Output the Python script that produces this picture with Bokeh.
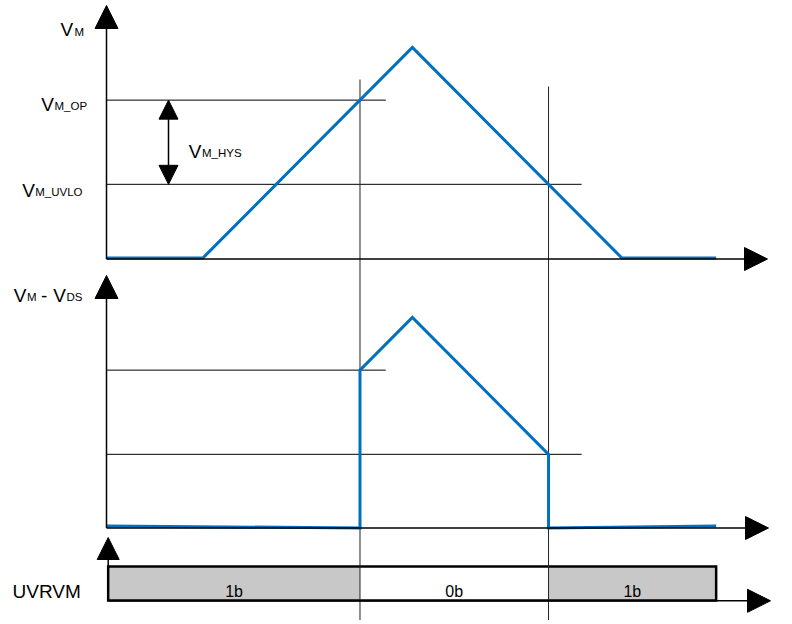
from bokeh.plotting import figure
from bokeh.models import Range1d, Arrow, NormalHead, ColumnDataSource, Label
from bokeh.core.properties import value
from bokeh.embed import file_html
from bokeh.resources import INLINE

# ---------------- data (time in ms, voltage in V) ----------------
t_vm = [0.0, 4.6, 14.6, 24.6, 29.1]          # V_M ramp up / down
vm = [0.0, 0.0, 10.0, 0.0, 0.0]

V_OP = 7.5        # V_M_OP threshold
V_UVLO = 3.5      # V_M_UVLO threshold
t_op = 12.1       # V_M crosses V_M_OP (rising)
t_uvlo = 21.1     # V_M crosses V_M_UVLO (falling)
t_peak = 14.6
t_end = 29.1

t_vds = [0.0, t_op, t_op, t_peak, t_uvlo, t_uvlo, t_end]   # V_M - V_DS
vds = [0.1, 0.0, 7.5, 10.0, 3.5, 0.0, 0.1]

bus_start = [0.08, t_op, t_uvlo]             # UVRVM register value
bus_end = [t_op, t_uvlo, t_end]
bus_val = ["1b", "0b", "1b"]

# ---------------- layout (page pixels) ----------------
OX, OY = 0, 0          # canvas origin on the page
W, H = 790, 620
X0_PX = 106.0
PX_PER_MS = 20.95
PX_PER_V = 21.05
TOP_ZERO = 257.5
MID_ZERO = 527.5
BUS_ZERO, BUS_PX = 600.0, 34.0
BLUE = "#0070C0"
FONT = "Liberation Sans"


def vrange(zero_px, k):
    return Range1d(start=(zero_px - (OY + H)) / k, end=(zero_px - OY) / k)


p = figure(width=W, height=H, x_range=Range1d(OX, OX + W), y_range=Range1d(OY + H, OY),
           output_backend="svg", toolbar_location=None, min_border=0,
           x_axis_location=None, y_axis_location=None)
p.grid.visible = False
p.outline_line_color = None
p.background_fill_color = "white"
p.border_fill_color = "white"

p.extra_x_ranges = {"time": Range1d((OX - X0_PX) / PX_PER_MS, (OX + W - X0_PX) / PX_PER_MS)}
p.extra_y_ranges = {
    "vm": vrange(TOP_ZERO, PX_PER_V),
    "vds": vrange(MID_ZERO, PX_PER_V),
    "bus": vrange(BUS_ZERO, BUS_PX),
}

# threshold lines
for rng in ("vm", "vds"):
    p.segment(x0=[0, 0], y0=[V_OP, V_UVLO], x1=[t_op + 1.23, t_uvlo + 1.58], y1=[V_OP, V_UVLO],
              x_range_name="time", y_range_name=rng, line_color="black", line_width=1)

# bus (UVRVM)
bus_src = ColumnDataSource(dict(
    left=bus_start, right=bus_end, label=bus_val,
    mid=[(a + b) / 2 for a, b in zip(bus_start, bus_end)],
    fill=["#C8C8C8" if v == "1b" else "white" for v in bus_val],
))
p.quad(left="left", right="right", bottom=0, top=1, fill_color="fill", line_color=None,
       source=bus_src, x_range_name="time", y_range_name="bus")
p.quad(left=[bus_start[0]], right=[bus_end[-1]], bottom=[0], top=[1], fill_color=None,
       line_color="black", line_width=2.5, line_join="miter",
       x_range_name="time", y_range_name="bus")
p.text(x="mid", y=0.27, text="label", source=bus_src, x_range_name="time", y_range_name="bus",
       text_font=value(FONT), text_font_size="16px", text_align="center",
       text_baseline="alphabetic", text_color="black")

# vertical event markers
p.segment(x0=[t_op, t_uvlo], x1=[t_op, t_uvlo], y0=[79, 86], y1=[640, 640],
          x_range_name="time", line_color="#222222", line_width=1)

# waveforms
p.line(t_vm, vm, x_range_name="time", y_range_name="vm", line_color=BLUE, line_width=3,
       line_join="miter")
p.line(t_vds, vds, x_range_name="time", y_range_name="vds", line_color=BLUE, line_width=3,
       line_join="miter")


# axes with arrow heads
def arrow(x0, y0, x1, y1, size=23, lw=1.5):
    p.add_layout(Arrow(end=NormalHead(size=size, fill_color="black", line_color="black", line_width=1),
                       x_start=x0, y_start=y0, x_end=x1, y_end=y1, line_color="black",
                       line_width=lw))


arrow(X0_PX, 258.5, X0_PX, 5)
arrow(X0_PX, 258.5, 767, 258.5)
arrow(X0_PX, MID_ZERO, X0_PX, 275)
arrow(X0_PX, MID_ZERO, 768, MID_ZERO)
arrow(107.7, 600.3, 107.7, 537, size=22)
arrow(107.7, 600.3, 770, 600.3)

# hysteresis double arrow
p.add_layout(Arrow(start=NormalHead(size=19, fill_color="black", line_color="black", line_width=1),
                   end=NormalHead(size=19, fill_color="black", line_color="black", line_width=1),
                   x_start=168, y_start=V_UVLO, x_end=168, y_end=V_OP,
                   line_color="black", line_width=1.5, y_range_name="vm"))


# labels
def lab(x, y, text, size):
    p.add_layout(Label(x=x, y=y, text=text, text_font=FONT, text_font_size=size,
                       text_baseline="alphabetic", text_align="left", text_color="black"))


MAIN, SUB = "19px", "11.5px"
lab(60, 29.3, "V", MAIN)
lab(74, 31, "M", SUB)
lab(40.7, 104, "V", MAIN)
lab(54, 105.5, "M_OP", SUB)
lab(188.3, 150.7, "V", MAIN)
lab(201.5, 152.2, "M_HYS", SUB)
lab(21.7, 190, "V", MAIN)
lab(34.7, 191.5, "M_UVLO", SUB)
lab(13.3, 294.7, "V", MAIN)
lab(26.5, 296.2, "M", SUB)
lab(40.5, 294.7, "-", MAIN)
lab(52.7, 294.7, "V", MAIN)
lab(66, 296.2, "DS", SUB)
lab(12, 590.7, "UVRVM", MAIN)

open("out.html", "w").write(file_html(p, INLINE))
